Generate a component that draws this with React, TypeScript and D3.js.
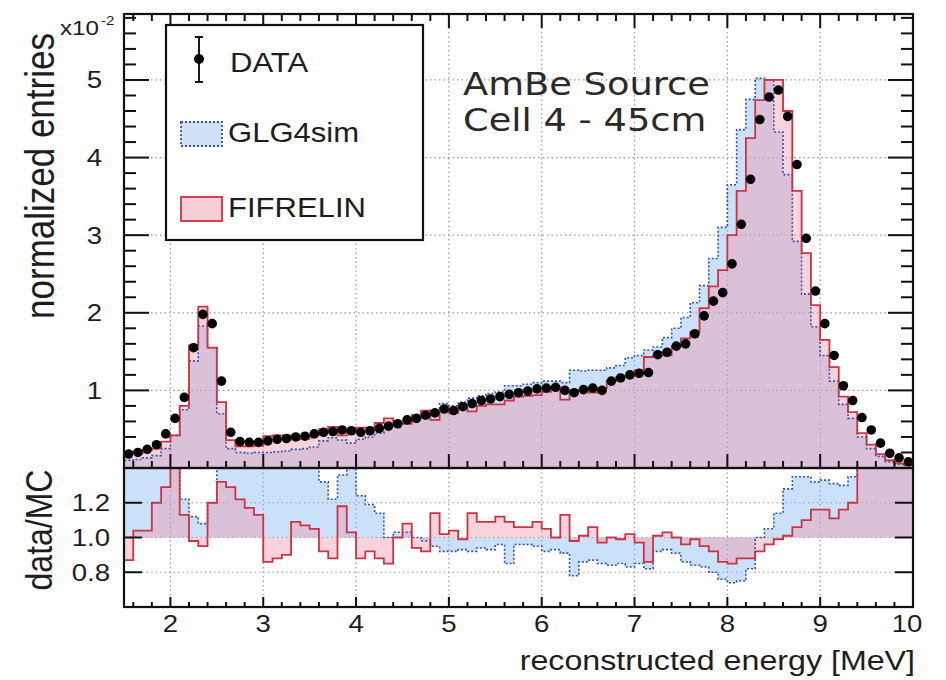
import React from "react";
import * as d3 from "d3";

// ---- data (bins of 0.1 MeV from 1.5 to 10 MeV) ----
const BIN_START = 1.5;
const BIN_WIDTH = 0.1;

const DATA_VALUES = [
  0.18, 0.2, 0.24, 0.3, 0.44, 0.64, 0.91, 1.55, 1.98, 1.86,
  1.12, 0.46, 0.34, 0.33, 0.33, 0.35, 0.37, 0.38, 0.4, 0.41,
  0.44, 0.46, 0.47, 0.49, 0.48, 0.46, 0.48, 0.51, 0.54, 0.57,
  0.62, 0.64, 0.68, 0.71, 0.76, 0.74, 0.79, 0.83, 0.87, 0.89,
  0.92, 0.95, 0.97, 0.99, 1.02, 1.03, 1.04, 1.0, 0.97, 1.01,
  1.03, 1.0, 1.12, 1.16, 1.2, 1.22, 1.23, 1.46, 1.49, 1.57,
  1.6, 1.73, 1.96, 2.15, 2.26, 2.63, 3.14, 3.72, 4.49, 4.78,
  4.87, 4.53, 3.91, 2.96, 2.28, 1.86, 1.45, 1.06, 0.87, 0.65,
  0.49, 0.32, 0.19, 0.13, 0.08,
];

const FIFRELIN_VALUES = [
  0.21, 0.19, 0.23, 0.25, 0.34, 0.42, 0.8, 1.58, 2.08, 1.55,
  0.85, 0.36, 0.28, 0.28, 0.29, 0.41, 0.42, 0.42, 0.37, 0.38,
  0.42, 0.5, 0.53, 0.42, 0.47, 0.52, 0.52, 0.58, 0.64, 0.57,
  0.57, 0.68, 0.74, 0.62, 0.75, 0.71, 0.8, 0.73, 0.8, 0.82,
  0.82, 0.87, 0.92, 0.93, 0.94, 0.98, 1.04, 0.88, 0.99, 1.0,
  0.97, 1.03, 1.12, 1.17, 1.18, 1.26, 1.43, 1.45, 1.45, 1.57,
  1.67, 1.75, 2.06, 2.34, 2.55, 3.0, 3.57, 4.25, 4.74, 5.0,
  5.0, 4.6, 3.57, 2.77, 2.1, 1.65, 1.3, 0.92, 0.72, 0.45,
  0.3, 0.18, 0.1, 0.06, 0.04,
];

const GLG4SIM_VALUES = [
  0.1, 0.11, 0.13, 0.16, 0.25, 0.42, 0.75, 1.38, 1.83, 1.55,
  0.7, 0.25, 0.2, 0.19, 0.2, 0.2, 0.21, 0.22, 0.24, 0.25,
  0.27, 0.35, 0.39, 0.36, 0.32, 0.37, 0.4, 0.45, 0.54, 0.55,
  0.6, 0.64, 0.69, 0.75, 0.83, 0.8, 0.85, 0.9, 0.93, 0.96,
  0.98, 1.06, 1.06, 1.08, 1.1, 1.12, 1.12, 1.1, 1.26, 1.25,
  1.26, 1.26, 1.29, 1.32, 1.42, 1.45, 1.52, 1.56, 1.68, 1.8,
  1.94, 2.13, 2.35, 2.7, 3.1, 3.65, 4.36, 4.75, 5.02, 5.0,
  4.33, 3.78, 2.92, 2.24, 1.82, 1.45, 1.12, 0.82, 0.64, 0.4,
  0.25, 0.15, 0.08, 0.05, 0.03,
];

const RATIO_FIFRELIN = [
  0.87, 1.04, 1.04, 1.2, 1.29, 1.5, 1.13, 0.98, 0.95, 1.2,
  1.32, 1.29, 1.22, 1.17, 1.13, 0.86, 0.88, 0.9, 1.09, 1.07,
  1.05, 0.92, 0.88, 1.18, 1.03, 0.88, 0.92, 0.88, 0.85, 1.0,
  1.08, 0.94, 0.92, 1.14, 1.02, 1.04, 0.99, 1.14, 1.09, 1.09,
  1.12, 1.09, 1.06, 1.06, 1.09, 1.05, 1.0, 1.13, 0.98, 1.01,
  1.06, 0.97, 1.0, 0.99, 1.02, 0.97, 0.86, 1.01, 1.03, 1.0,
  0.96, 0.99, 0.95, 0.92, 0.86, 0.85, 0.88, 0.88, 0.92, 0.96,
  0.99, 1.01, 1.06, 1.1, 1.16, 1.16, 1.11, 1.16, 1.2, 1.5,
  1.5, 1.5, 1.5, 1.5, 1.5,
];

const RATIO_GLG4SIM = [
  1.5, 1.5, 1.5, 1.5, 1.5, 1.5, 1.22, 1.12, 1.08, 1.2,
  1.5, 1.5, 1.5, 1.5, 1.5, 1.5, 1.5, 1.5, 1.5, 1.5,
  1.5, 1.32, 1.22, 1.36, 1.5, 1.24, 1.19, 1.14, 1.0, 1.03,
  1.03, 1.0, 0.98, 0.95, 0.92, 0.92, 0.93, 0.92, 0.94, 0.93,
  0.96, 0.85, 0.96, 0.96, 0.95, 0.92, 0.93, 0.91, 0.78, 0.86,
  0.87, 0.85, 0.84, 0.85, 0.83, 0.85, 0.82, 0.92, 0.93, 0.91,
  0.86, 0.84, 0.83, 0.8, 0.76, 0.74, 0.75, 0.82, 1.0, 1.05,
  1.14, 1.28, 1.35, 1.35, 1.32, 1.33, 1.31, 1.3, 1.35, 1.5,
  1.5, 1.5, 1.5, 1.5, 1.5,
];

const X_TICKS = [2, 3, 4, 5, 6, 7, 8, 9, 10];
const X_TICK_LABELS = ["2", "3", "4", "5", "6", "7", "8", "9", "10"];
const Y_TICKS_TOP = [1, 2, 3, 4, 5];
const Y_TICK_LABELS_TOP = ["1", "2", "3", "4", "5"];
const Y_TICKS_RATIO = [0.8, 1.0, 1.2];
const Y_TICK_LABELS_RATIO = ["0.8", "1.0", "1.2"];
const LEGEND_LABELS = ["DATA", "GLG4sim", "FIFRELIN"];

// ---- layout ----
const W = 946;
const H = 680;
const L = 124;
const R = 913;
const TOP = 14;
const MID = 468;
const BOT = 607;
const SX = 1.15;
const SANS = "'Liberation Sans', Arial, Helvetica, sans-serif";
const DEJAVU = "'DejaVu Sans', Verdana, sans-serif";
const TXT = "#1e1e1e";

const RED = "#cc3344";
const BLUE = "#2f55b0";
const RED_FILL = "rgba(240,150,170,0.42)";
const BLUE_FILL = "rgba(130,180,240,0.42)";
const GRID = "#9a9a9a";

function T({ x, y, size, anchor = "start", family = SANS, rotate = false, children, fill = TXT }: any) {
  const tr = `translate(${x},${y}) scale(${SX},1)` + (rotate ? " rotate(-90)" : "");
  return (
    <text transform={tr} fontSize={size} textAnchor={anchor} fontFamily={family} fill={fill}>
      {children}
    </text>
  );
}

export default function App() {
  const x = d3.scaleLinear().domain([1.5, 10]).range([L, R]);
  const yTop = d3.scaleLinear().domain([0, 5.85]).range([MID, TOP]);
  const yRat = d3.scaleLinear().domain([0.6, 1.4]).range([BOT, MID]);

  const n = DATA_VALUES.length;
  const lo = (i: number) => BIN_START + i * BIN_WIDTH;
  const centre = (i: number) => BIN_START + (i + 0.5) * BIN_WIDTH;

  const stepPts = (vals: number[]) => [
    ...vals.map((v, i) => [lo(i), v] as [number, number]),
    [lo(n), vals[n - 1]] as [number, number],
  ];

  const areaGen = (ys: any, base: number) =>
    d3
      .area<[number, number]>()
      .x((d) => x(d[0]))
      .y0(ys(base))
      .y1((d) => ys(d[1]))
      .curve(d3.curveStepAfter);

  const lineGen = (ys: any) =>
    d3
      .line<[number, number]>()
      .x((d) => x(d[0]))
      .y((d) => ys(d[1]))
      .curve(d3.curveStepAfter);

  const outline = (vals: number[], base: number) => [
    [lo(0), base] as [number, number],
    ...stepPts(vals),
    [lo(n), base] as [number, number],
  ];

  // ticks
  const xMinor = d3.range(16, 100, 2).map((v) => v / 10);
  const yMinorTop = d3.range(0, 59, 2).map((v) => v / 10);

  const topAreaBlue = areaGen(yTop, 0)(stepPts(GLG4SIM_VALUES)) || "";
  const topAreaRed = areaGen(yTop, 0)(stepPts(FIFRELIN_VALUES)) || "";
  const topLineBlue = lineGen(yTop)(outline(GLG4SIM_VALUES, 0)) || "";
  const topLineRed = lineGen(yTop)(outline(FIFRELIN_VALUES, 0)) || "";

  const ratAreaBlue = areaGen(yRat, 1)(stepPts(RATIO_GLG4SIM)) || "";
  const ratAreaRed = areaGen(yRat, 1)(stepPts(RATIO_FIFRELIN)) || "";
  const ratLineBlue = lineGen(yRat)(outline(RATIO_GLG4SIM, 1)) || "";
  const ratLineRed = lineGen(yRat)(outline(RATIO_FIFRELIN, 1)) || "";

  return (
    <svg width={W} height={H} viewBox={`0 0 ${W} ${H}`} style={{ display: "block", position: "absolute", left: 0, top: 0, background: "#fff" }}>
      <defs>
        <clipPath id="clipTop">
          <rect x={L} y={TOP} width={R - L} height={MID - TOP} />
        </clipPath>
        <clipPath id="clipRat">
          <rect x={L} y={MID} width={R - L} height={BOT - MID} />
        </clipPath>
      </defs>
      <rect x={0} y={0} width={W} height={H} fill="#fff" />

      {/* grids */}
      <g stroke={GRID} strokeWidth={1.2} strokeDasharray="1.5 3">
        {X_TICKS.filter((t) => t < 10).map((t) => (
          <g key={"gx" + t}>
            <line x1={x(t)} x2={x(t)} y1={TOP} y2={MID} />
            <line x1={x(t)} x2={x(t)} y1={MID} y2={BOT} />
          </g>
        ))}
        {Y_TICKS_TOP.map((t) => (
          <line key={"gy" + t} x1={L} x2={R} y1={yTop(t)} y2={yTop(t)} />
        ))}
        {Y_TICKS_RATIO.map((t) => (
          <line key={"gr" + t} x1={L} x2={R} y1={yRat(t)} y2={yRat(t)} />
        ))}
      </g>

      {/* top panel histograms */}
      <g clipPath="url(#clipTop)">
        <path d={topAreaBlue} fill={BLUE_FILL} stroke="none" />
        <path d={topAreaRed} fill={RED_FILL} stroke="none" />
        <path d={topLineBlue} fill="none" stroke={BLUE} strokeWidth={1.6} strokeDasharray="2 2" />
        <path d={topLineRed} fill="none" stroke={RED} strokeWidth={1.8} />
        {DATA_VALUES.map((v, i) => (
          <circle key={"d" + i} cx={x(centre(i))} cy={yTop(v)} r={4.8} fill="#000" />
        ))}
      </g>

      {/* ratio panel */}
      <g clipPath="url(#clipRat)">
        <path d={ratAreaBlue} fill={BLUE_FILL} stroke="none" />
        <path d={ratAreaRed} fill={RED_FILL} stroke="none" />
        <path d={ratLineBlue} fill="none" stroke={BLUE} strokeWidth={1.6} strokeDasharray="2 2" />
        <path d={ratLineRed} fill="none" stroke={RED} strokeWidth={1.8} />
      </g>

      {/* ticks */}
      <g stroke="#111" strokeWidth={2}>
        {yMinorTop.map((v) => {
          const major = Math.abs(v - Math.round(v)) < 1e-6;
          const len = major ? 25 : 12;
          return (
            <g key={"yt" + v}>
              <line x1={L} x2={L + len} y1={yTop(v)} y2={yTop(v)} />
              <line x1={R} x2={R - len} y1={yTop(v)} y2={yTop(v)} />
            </g>
          );
        })}
        {xMinor.map((v) => {
          const major = Math.abs(v - Math.round(v)) < 1e-6;
          return (
            <g key={"xt" + v}>
              <line x1={x(v)} x2={x(v)} y1={MID} y2={MID - (major ? 14 : 7)} />
              <line x1={x(v)} x2={x(v)} y1={TOP} y2={TOP + (major ? 14 : 7)} />
              <line x1={x(v)} x2={x(v)} y1={BOT} y2={BOT - (major ? 10 : 5)} />
            </g>
          );
        })}
        {Y_TICKS_RATIO.map((t) => (
          <g key={"rt" + t}>
            <line x1={L} x2={L + 18} y1={yRat(t)} y2={yRat(t)} />
            <line x1={R} x2={R - 18} y1={yRat(t)} y2={yRat(t)} />
          </g>
        ))}
      </g>

      {/* frames */}
      <rect x={L} y={TOP} width={R - L} height={MID - TOP} fill="none" stroke="#111" strokeWidth={2.2} />
      <rect x={L} y={MID} width={R - L} height={BOT - MID} fill="none" stroke="#111" strokeWidth={2.2} />

      {/* legend */}
      <rect x={166} y={25} width={257} height={215} fill="#fff" stroke="#111" strokeWidth={2.2} />
      <g stroke="#000" strokeWidth={1.8}>
        <line x1={199} x2={199} y1={37} y2={82} />
        <line x1={195} x2={203} y1={37} y2={37} />
        <line x1={195} x2={203} y1={82} y2={82} />
      </g>
      <circle cx={199} cy={59} r={5} fill="#000" />
      <rect x={181} y={122} width={41} height={24} fill="#cfe1f7" stroke={BLUE} strokeWidth={1.8} strokeDasharray="2 2" />
      <rect x={181} y={197} width={41} height={24} fill="#f8cfd6" stroke={RED} strokeWidth={1.8} />
      <T x={230} y={72} size={27}>{LEGEND_LABELS[0]}</T>
      <T x={228} y={142} size={27}>{LEGEND_LABELS[1]}</T>
      <T x={228} y={217} size={27}>{LEGEND_LABELS[2]}</T>

      {/* annotation */}
      <T x={463} y={95} size={32} family={DEJAVU} fill="#2a2a2a">AmBe Source</T>
      <T x={463} y={131} size={32} family={DEJAVU} fill="#2a2a2a">Cell 4 - 45cm</T>

      {/* tick labels */}
      {Y_TICKS_TOP.map((t, i) => (
        <T key={"yl" + t} x={102} y={yTop(t) + 8.5} size={24} anchor="end">{Y_TICK_LABELS_TOP[i]}</T>
      ))}
      {Y_TICKS_RATIO.map((t, i) => (
        <T key={"rl" + t} x={110} y={yRat(t) + 8.5} size={24} anchor="end">{Y_TICK_LABELS_RATIO[i]}</T>
      ))}
      {X_TICKS.map((t, i) => (
        <T key={"xl" + t} x={t === 10 ? x(t) - 6 : x(t)} y={632} size={24} anchor="middle">{X_TICK_LABELS[i]}</T>
      ))}

      {/* exponent */}
      <T x={60} y={35} size={21}>x10</T>
      <T x={101} y={25} size={13}>-2</T>

      {/* axis titles */}
      <T x={54} y={176} size={35} anchor="middle" rotate>normalized entries</T>
      <T x={52} y={530} size={32} anchor="middle" rotate>data/MC</T>
      <T x={915} y={670} size={28} anchor="end">reconstructed energy [MeV]</T>
    </svg>
  );
}
